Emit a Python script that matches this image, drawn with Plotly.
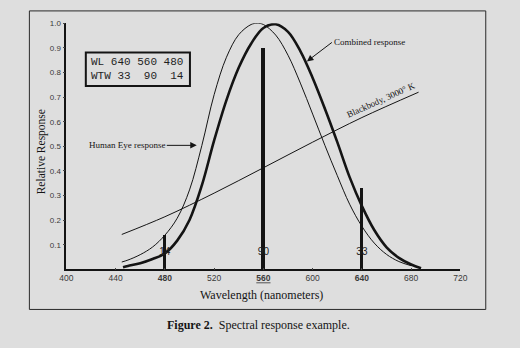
import plotly.graph_objects as go

# ---- data -------------------------------------------------------------
# photopic human-eye sensitivity
eye_wl = [445, 450, 460, 470, 480, 490, 500, 510, 520, 530, 540, 550, 555,
          560, 570, 580, 590, 600, 610, 620, 630, 640, 650, 660, 670, 680]
eye_resp = [0.030, 0.038, 0.060, 0.091, 0.139, 0.208, 0.323, 0.503, 0.710,
            0.862, 0.954, 0.995, 1.000, 0.995, 0.952, 0.870, 0.757, 0.631,
            0.503, 0.381, 0.265, 0.175, 0.107, 0.061, 0.032, 0.015]

# eye response weighted by the 3000 K source
comb_wl = [446, 450, 460, 470, 480, 490, 500, 510, 520, 530, 540, 550, 560,
           570, 580, 590, 600, 610, 620, 630, 640, 650, 660, 670, 680, 688]
comb_resp = [0.009, 0.014, 0.025, 0.042, 0.065, 0.117, 0.201, 0.341, 0.524,
             0.688, 0.820, 0.917, 0.981, 0.996, 0.965, 0.887, 0.778, 0.652,
             0.517, 0.375, 0.257, 0.160, 0.090, 0.047, 0.020, 0.005]

# blackbody, 3000 K
bb_wl = [445, 480, 520, 560, 600, 640, 686]
bb_resp = [0.142, 0.214, 0.310, 0.413, 0.517, 0.617, 0.720]

# weighting table
WL = [640, 560, 480]
WTW = [33, 90, 14]
bar_widths = [1.8, 3.2, 1.6]

x_ticks = [400, 440, 480, 520, 560, 600, 640, 680, 720]
y_ticks = [0.1, 0.2, 0.3, 0.4, 0.5, 0.6, 0.7, 0.8, 0.9, 1.0]

# ---- page geometry helpers (pixels -> paper fractions) ----------------
W, H = 520, 348
def px(x):
    return x / W
def py(y):
    return 1 - y / H

SERIF = "Liberation Serif"
SANS = "Liberation Sans"
MONO = "Liberation Mono"
INK = "#141414"
BG = "#dedede"

fig = go.Figure()

fig.add_trace(go.Scatter(x=bb_wl, y=bb_resp, mode="lines",
                         line=dict(color=INK, width=1, shape="spline"),
                         hoverinfo="skip"))
fig.add_trace(go.Scatter(x=eye_wl, y=eye_resp, mode="lines",
                         line=dict(color=INK, width=1, shape="spline"),
                         hoverinfo="skip"))
fig.add_trace(go.Scatter(x=comb_wl, y=comb_resp, mode="lines",
                         line=dict(color=INK, width=2.6, shape="spline"),
                         hoverinfo="skip"))

# weighting bars (height = WTW / 100)
fig.add_trace(go.Bar(x=WL, y=[t / 100 for t in WTW], width=bar_widths,
                     marker=dict(color=INK, line=dict(width=0)),
                     hoverinfo="skip"))
fig.add_trace(go.Scatter(x=WL, y=[0.07] * len(WL), mode="text",
                         text=[str(t) for t in WTW],
                         textfont=dict(family=SANS, size=10, color="#222"),
                         textposition="middle center", hoverinfo="skip"))

# tick labels: weighted wavelengths in bold, peak underlined
tick_text = []
for v in x_ticks:
    s = str(v)
    if v in WL:
        s = "<b>" + s + "</b>"
    if v == 560:
        s = "<span style='text-decoration:underline'>" + s + "</span>"
    tick_text.append(s)

fig.update_layout(
    width=W, height=H,
    margin=dict(l=0, r=0, t=0, b=0),
    paper_bgcolor=BG, plot_bgcolor=BG,
    showlegend=False,
    bargap=0,
    xaxis=dict(domain=[px(61), px(466)], range=[400, 720],
               tickvals=x_ticks, ticktext=tick_text,
               ticks="inside", ticklen=2, tickcolor="#444",
               tickfont=dict(family=SANS, size=8.5, color="#3a3a3a"),
               showline=True, linecolor=INK, linewidth=1.6,
               showgrid=False, zeroline=False),
    yaxis=dict(domain=[py(268.5), py(19.5)], range=[0, 1.0],
               tickvals=y_ticks, ticktext=["%.1f" % v for v in y_ticks],
               ticks="outside", ticklen=2, tickcolor="#444",
               tickfont=dict(family=SANS, size=8, color="#3a3a3a"),
               showline=True, linecolor=INK, linewidth=1.6,
               showgrid=False, zeroline=False),
)

shapes = [
    # outer frame
    dict(type="rect", xref="paper", yref="paper",
         x0=px(23), x1=px(492), y0=py(309), y1=py(7),
         line=dict(color="#2a2a2a", width=1)),
    # weighting table box
    dict(type="rect", xref="paper", yref="paper",
         x0=px(81), x1=px(188), y0=py(83), y1=py(49),
         line=dict(color=INK, width=2)),
]
fig.update_layout(shapes=shapes)

row1 = "WL " + " ".join("%3d" % w for w in WL)
row2 = "WTW" + " ".join("%3d" % t for t in WTW)
table_text = row1.replace(" ", "\u00a0") + "<br>" + row2.replace(" ", "\u00a0")

annotations = [
    dict(text=table_text, xref="paper", yref="paper",
         x=px(84), y=py(65.5), xanchor="left", yanchor="middle",
         align="left", showarrow=False,
         font=dict(family=MONO, size=11, color="#1e1e1e")),
    # curve call-outs
    dict(text="Human Eye response", x=505.9, y=0.504, ax=-30, ay=0,
         xanchor="right", yanchor="middle", showarrow=True,
         arrowhead=2, arrowsize=1.3, arrowwidth=1, arrowcolor=INK,
         font=dict(family=SERIF, size=9, color=INK)),
    dict(text="Combined response", x=595.3, y=0.845, ax=25, ay=-19,
         xanchor="left", yanchor="middle", showarrow=True,
         arrowhead=2, arrowsize=1.3, arrowwidth=1, arrowcolor=INK,
         font=dict(family=SERIF, size=9, color=INK)),
    dict(text="Blackbody, 3000° K", x=655.2, y=0.689, textangle=-24,
         xanchor="center", yanchor="middle",
         showarrow=False, font=dict(family=SERIF, size=9, color=INK)),
    # axis titles
    dict(text="Relative Response", xref="paper", yref="paper",
         x=px(35), y=py(150), textangle=-90, showarrow=False,
         xanchor="center", yanchor="middle",
         font=dict(family=SERIF, size=11.5, color=INK)),
    dict(text="Wavelength (nanometers)", xref="paper", yref="paper",
         x=px(262), y=py(294), showarrow=False,
         xanchor="center", yanchor="middle",
         font=dict(family=SERIF, size=12, color=INK)),
    # caption
    dict(text="<b>Figure 2.</b>  Spectral response example.",
         xref="paper", yref="paper", x=px(162), y=py(325),
         xanchor="left", yanchor="middle", showarrow=False,
         font=dict(family=SERIF, size=12, color=INK)),
]
fig.update_layout(annotations=annotations)

fig.write_html("out.html")
